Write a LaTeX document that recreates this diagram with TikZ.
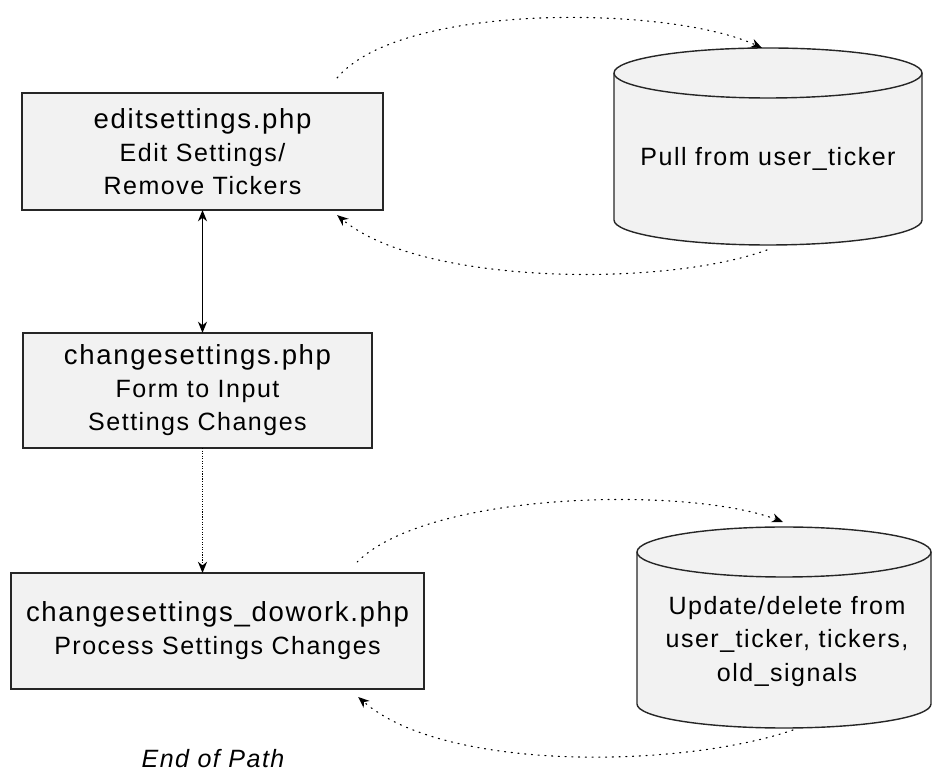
\documentclass[tikz,border=0pt]{standalone}
\usepackage{fontspec}
\setmainfont{Liberation Sans}[LetterSpace=6]
\usetikzlibrary{arrows.meta,calc}
\tikzset{
  pagebox/.style={draw=black!85,line width=1pt,fill=black!5,inner sep=0pt,outer sep=0pt,align=center,
    font=\fontsize{17.8}{23.5}\selectfont},
  dbcyl/.style={draw=black!85,line width=1pt,fill=black!5},
  dotlink/.style={->,line width=0.8pt,dash pattern=on 0.8pt off 4pt,line cap=round},
}
\newcommand{\pagename}[1]{{\fontsize{19.6}{23.5}\selectfont #1}}
\begin{document}
\begin{tikzpicture}[x=0.025cm,y=0.025cm,>={Stealth[length=8pt,width=6.5pt]}]
\useasboundingbox (0,0) rectangle (932,774);
% pages
\node[pagebox,minimum width=9.03cm,minimum height=2.93cm] (editset) at (202.5,622.5)
  {\pagename{editsettings.php}\\Edit Settings/\\Remove Tickers};
\node[pagebox,minimum width=8.73cm,minimum height=2.88cm] (changeset) at (197.5,383.5)
  {\pagename{changesettings.php}\\Form to Input\\Settings Changes};
\node[pagebox,minimum width=10.33cm,minimum height=2.9cm] (dowork) at (217.5,143)
  {\pagename{changesettings\_dowork.php}\\Process Settings Changes};
% databases
\draw[dbcyl] (614,701) -- (614,554) arc[start angle=180,end angle=360,x radius=154,y radius=25]
  -- (922,701) arc[start angle=0,end angle=180,x radius=154,y radius=25] -- cycle;
\draw[line width=1pt,draw=black!85] (614,701) arc[start angle=180,end angle=360,x radius=154,y radius=25];
\draw[dbcyl] (637,222) -- (637,70) arc[start angle=180,end angle=360,x radius=147,y radius=24]
  -- (931,222) arc[start angle=0,end angle=180,x radius=147,y radius=25] -- cycle;
\draw[line width=1pt,draw=black!85] (637,222) arc[start angle=180,end angle=360,x radius=147,y radius=25];
\node[font=\fontsize{17.8}{23.8}\selectfont] (pulltxt) at (768,615) {Pull from user\_ticker};
\node[font=\fontsize{17.8}{23.8}\selectfont,align=center] (updtxt) at (787,132.5)
  {Update/delete from\\user\_ticker, tickers,\\old\_signals};
\coordinate (pulltop) at (762,726);
\coordinate (pullbot) at (767,524);
\coordinate (updtop) at (783,252);
\coordinate (updbot) at (793,44);
% flow
\draw[<->,line width=0.8pt] (editset.south) -- (editset.south |- changeset.north);
\draw[->,line width=0.8pt,densely dotted] (editset.south |- changeset.south) -- (editset.south |- dowork.north);
\draw[dotlink] ($(editset.north east)+(-46,15)$) to[out=50,in=155,looseness=0.6] (pulltop);
\draw[dotlink] (pullbot) to[out=200,in=-40,looseness=0.65] ($(editset.south east)+(-46,-5)$);
\draw[dotlink] ($(dowork.north east)+(-67,11)$) to[out=45,in=159,looseness=0.6] (updtop);
\draw[dotlink] (updbot) to[out=199,in=-41,looseness=0.68] ($(dowork.south east)+(-66,-8)$);
\node[anchor=base,font=\fontsize{17.8}{20}\selectfont\itshape] (endpath) at (213,6) {End of Path};
\end{tikzpicture}
\end{document}
